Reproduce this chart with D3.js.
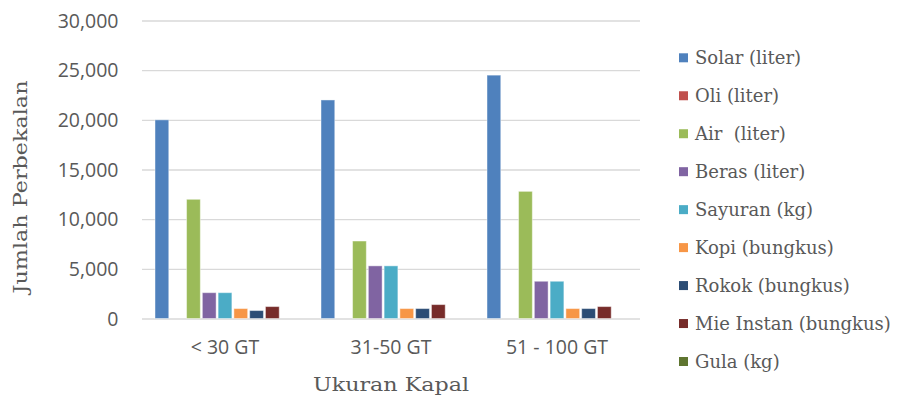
<!DOCTYPE html>
<html>
<head>
<meta charset="utf-8">
<script src="https://cdn.jsdelivr.net/npm/d3@7"></script>
<style>
  html, body { margin: 0; padding: 0; background: #ffffff; }
  svg { display: block; }
</style>
</head>
<body>
<svg id="chart" width="909" height="398"></svg>
<script>
// Vessel size classes on the x axis
const categories = ["< 30 GT", "31-50 GT", "51 - 100 GT"];

// Provision types, one bar each per vessel class
const seriesNames = [
  "Solar (liter)", "Oli (liter)", "Air  (liter)", "Beras (liter)", "Sayuran (kg)",
  "Kopi (bungkus)", "Rokok (bungkus)", "Mie Instan (bungkus)", "Gula (kg)"
];
const seriesColors = [
  "#4F81BD", "#C0504D", "#9BBB59", "#8064A2", "#4BACC6",
  "#F79646", "#2C4D75", "#772C2A", "#5F7530"
];

// Values per series, ordered like categories
const solar   = [20000, 22000, 24500];
const oli     = [0, 0, 0];
const air     = [12000, 7800, 12800];
const beras   = [2600, 5300, 3750];
const sayuran = [2600, 5300, 3750];
const kopi    = [1000, 1000, 1000];
const rokok   = [800, 1000, 1000];
const mie     = [1200, 1400, 1200];
const gula    = [0, 0, 0];
const seriesValues = [solar, oli, air, beras, sayuran, kopi, rokok, mie, gula];

const yTicks = [0, 5000, 10000, 15000, 20000, 25000, 30000];

const svg = d3.select("#chart");
const plot = { left: 142, right: 640, top: 20.5, bottom: 318.5 };

const x0 = d3.scaleBand().domain(categories).range([plot.left, plot.right]).padding(0);
const groupPad = 12;
const x1 = d3.scaleBand().domain(seriesNames)
  .range([groupPad, x0.bandwidth() - groupPad]).padding(0);
const y = d3.scaleLinear().domain([0, 30000]).range([plot.bottom, plot.top]);

const tickFont = "'Open Sans', 'Noto Sans', sans-serif";
const serifFont = "'DejaVu Serif', 'Liberation Serif', serif";
const textGray = "#595959";

// Horizontal gridlines and value labels
const yAxis = d3.axisLeft(y).tickValues(yTicks).tickFormat(d3.format(",")).tickSize(0).tickPadding(0);
const gy = svg.append("g").attr("transform", `translate(${plot.left},0)`).call(yAxis);
gy.select(".domain").remove();
gy.selectAll(".tick line")
  .attr("x2", plot.right - plot.left)
  .attr("stroke", "#d9d9d9")
  .attr("stroke-width", 1.3);
gy.selectAll(".tick text")
  .attr("x", -23.5)
  .attr("dy", "0.35em")
  .attr("fill", textGray)
  .style("font-family", tickFont)
  .style("font-size", "19.5px");

// Grouped bars
const groups = svg.append("g").selectAll("g")
  .data(categories)
  .join("g")
  .attr("transform", d => `translate(${x0(d)},0)`);

groups.selectAll("rect")
  .data((c, ci) => seriesNames.map((s, si) => ({ s, si, v: seriesValues[si][ci] })))
  .join("rect")
  .attr("x", d => x1(d.s) + 1)
  .attr("width", x1.bandwidth() - 2)
  .attr("y", d => y(d.v))
  .attr("height", d => y(0) - y(d.v))
  .attr("fill", d => seriesColors[d.si])
  .attr("stroke", "#ffffff")
  .attr("stroke-opacity", 0.45)
  .attr("stroke-width", 1)
  .attr("display", d => d.v > 0 ? null : "none");

// Category axis labels
const xAxis = d3.axisBottom(x0).tickSize(0).tickPadding(0);
const gx = svg.append("g").attr("transform", `translate(0,${plot.bottom})`).call(xAxis);
gx.select(".domain").remove();
gx.selectAll(".tick text")
  .attr("y", 29)
  .attr("dy", "0.35em")
  .attr("fill", textGray)
  .style("font-family", tickFont)
  .style("font-size", "19.5px");

// Axis titles
svg.append("text")
  .attr("transform", "translate(27,187) rotate(-90)")
  .attr("text-anchor", "middle")
  .attr("fill", textGray)
  .attr("textLength", 213)
  .attr("lengthAdjust", "spacingAndGlyphs")
  .style("font-family", serifFont)
  .style("font-size", "19px")
  .text("Jumlah Perbekalan");

svg.append("text")
  .attr("x", (plot.left + plot.right) / 2)
  .attr("y", 391)
  .attr("text-anchor", "middle")
  .attr("fill", textGray)
  .attr("textLength", 156)
  .attr("lengthAdjust", "spacingAndGlyphs")
  .style("font-family", serifFont)
  .style("font-size", "19px")
  .text("Ukuran Kapal");

// Legend
const legendY = d3.scalePoint().domain(seriesNames).range([57.8, 361.5]);
const legend = svg.append("g").selectAll("g")
  .data(seriesNames)
  .join("g")
  .attr("transform", d => `translate(679,${legendY(d)})`);
legend.append("rect")
  .attr("x", 0).attr("y", -4.5)
  .attr("width", 9).attr("height", 9)
  .attr("fill", (d, i) => seriesColors[i]);
legend.append("text")
  .attr("x", 16)
  .attr("dy", "0.35em")
  .attr("fill", textGray)
  .style("font-family", serifFont)
  .style("font-size", "18px")
  .style("white-space", "pre")
  .attr("xml:space", "preserve")
  .text(d => d);
</script>
</body>
</html>
